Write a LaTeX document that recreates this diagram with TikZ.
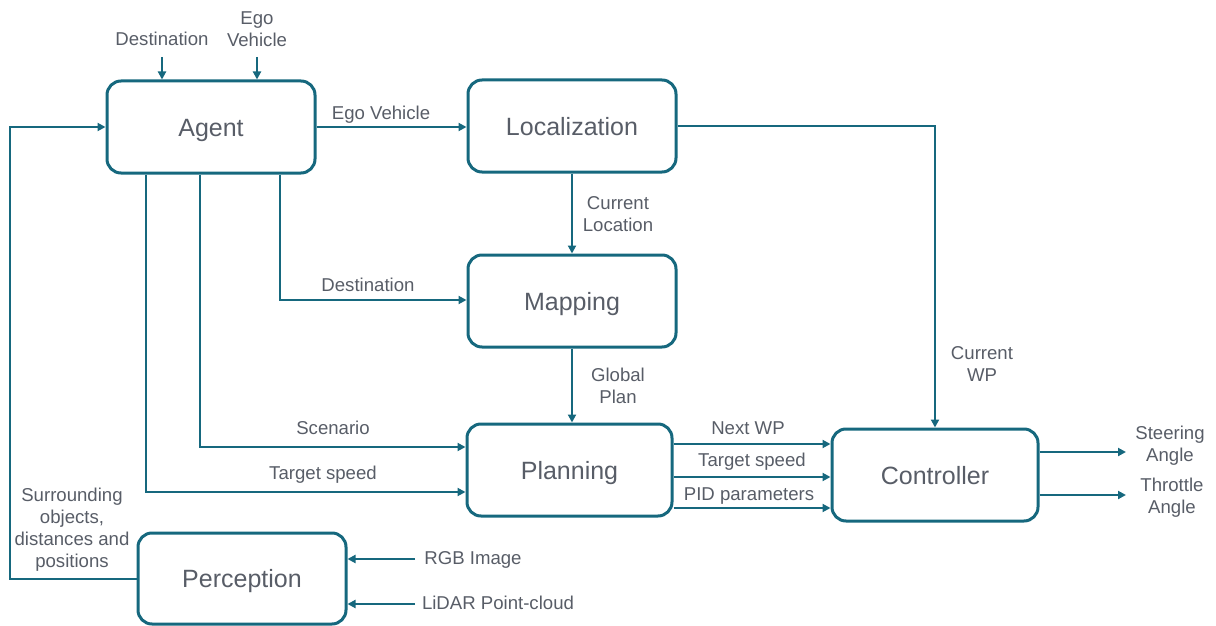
\documentclass[tikz,border=0pt]{standalone}
\usepackage{fontspec}
\setmainfont{Liberation Sans}
\usetikzlibrary{arrows.meta}
\definecolor{teal1}{RGB}{22,104,126}
\definecolor{txt}{RGB}{88,93,103}
\begin{document}
\begin{tikzpicture}[x=1pt,y=-1pt,
  blk/.style={draw=teal1,line width=3pt,rounded corners=14pt,minimum width=#1,minimum height=92pt,inner sep=0pt,text=txt,text height=18pt,text depth=0pt,font=\fontsize{25}{29}\selectfont},
  blk/.default=208pt,
  arr/.style={draw=teal1,line width=2pt,-{Triangle[length=8pt,width=8pt]}},
  lbl/.style={text=txt,inner sep=0pt,align=center,font=\fontsize{18.6}{22}\selectfont}]
\useasboundingbox (0,0) rectangle (1216,626);
% blocks
\node[blk] (agent) at (211,127) {Agent};
\node[blk] (loc) at (572,126) {Localization};
\node[blk] (map) at (572,301) {Mapping};
\node[blk=205pt] (plan) at (569.5,470) {Planning};
\node[blk=206pt] (ctrl) at (935,475) {Controller};
\node[blk,minimum height=91pt] (perc) at (242,578.5) {Perception};
% coordinates
\coordinate (t1) at (162,57);
\coordinate (t2) at (257,57);
\coordinate (fb) at (10,579);
\coordinate (a1) at (146,492);
\coordinate (a2) at (200,447);
\coordinate (a3) at (280,300);
\coordinate (p1) at (0,444);
\coordinate (p2) at (0,477);
\coordinate (p3) at (0,508);
\coordinate (o1) at (1126,452);
\coordinate (o2) at (1126,495);
\coordinate (i1) at (415,559);
\coordinate (i2) at (415,604);
% connectors
\draw[arr] (t1) -- (agent.north -| t1);
\draw[arr] (t2) -- (agent.north -| t2);
\draw[arr] (agent.east) -- (agent.east -| loc.west);
\draw[arr] (perc.west |- fb) -- (fb) |- (agent.west);
\draw[arr] (agent.south -| a1) |- (plan.west |- a1);
\draw[arr] (agent.south -| a2) |- (plan.west |- a2);
\draw[arr] (agent.south -| a3) |- (map.west |- a3);
\draw[arr] (loc.south) -- (map.north);
\draw[arr] (map.south) -- (map.south |- plan.north);
\draw[arr] (loc.east) -| (ctrl.north);
\draw[arr] (plan.east |- p1) -- (ctrl.west |- p1);
\draw[arr] (plan.east |- p2) -- (ctrl.west |- p2);
\draw[arr] (plan.east |- p3) -- (ctrl.west |- p3);
\draw[arr] (ctrl.east |- o1) -- (o1);
\draw[arr] (ctrl.east |- o2) -- (o2);
\draw[arr] (i1) -- (perc.east |- i1);
\draw[arr] (i2) -- (perc.east |- i2);
% labels
\node[lbl] (l1) at (162,39) {Destination};
\node[lbl] (l2) at (257,29) {Ego\\Vehicle};
\node[lbl] (l3) at (381,115) {Ego Vehicle};
\node[lbl] (l4) at (368,285) {Destination};
\node[lbl] (l5) at (333,428) {Scenario};
\node[lbl] (l6) at (323,475) {Target speed};
\node[lbl] (l7) at (618,214) {Current\\Location};
\node[lbl] (l8) at (618,386) {Global\\Plan};
\node[lbl] (l9) at (982,364) {Current\\WP};
\node[lbl] (l10) at (748,428) {Next WP};
\node[lbl] (l11) at (752,462) {Target speed};
\node[lbl] (l12) at (749,496) {PID parameters};
\node[lbl] (l13) at (1170,446) {Steering\\Angle};
\node[lbl] (l14) at (1172,498) {Throttle\\Angle};
\node[lbl] (l15) at (473,560) {RGB Image};
\node[lbl] (l16) at (498,603) {LiDAR Point-cloud};
\node[lbl] (l17) at (72,530) {Surrounding\\objects,\\distances and\\positions};
\end{tikzpicture}
\end{document}
